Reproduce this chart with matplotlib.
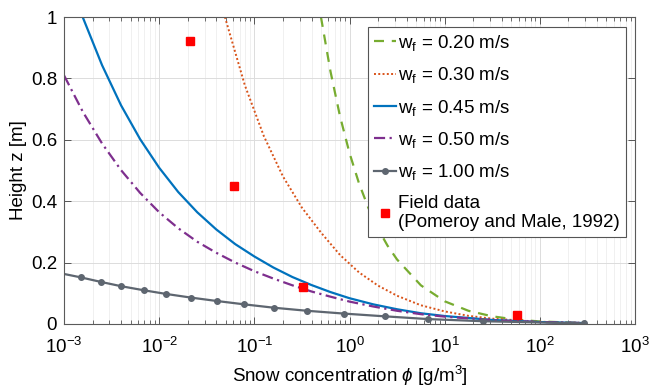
import numpy as np
import matplotlib
matplotlib.use("Agg")
import matplotlib.pyplot as plt
from matplotlib.ticker import LogLocator, FixedLocator, FuncFormatter, NullFormatter

plt.rcParams['font.family'] = ['Liberation Sans', 'DejaVu Sans']
plt.rcParams['mathtext.fontset'] = 'custom'
plt.rcParams['mathtext.rm'] = 'Liberation Sans'
plt.rcParams['mathtext.it'] = 'Liberation Sans:italic'
plt.rcParams['mathtext.bf'] = 'Liberation Sans:bold'

# ---- data (concentration given as log10 exponent) ----
labels = ['w$_\\mathregular{f}$ = 0.20 m/s', 'w$_\\mathregular{f}$ = 0.30 m/s',
          'w$_\\mathregular{f}$ = 0.45 m/s', 'w$_\\mathregular{f}$ = 0.50 m/s',
          'w$_\\mathregular{f}$ = 1.00 m/s']
field_label = 'Field data\n(Pomeroy and Male, 1992)'

w020_logphi = [-0.30, -0.2, -0.1, 0.0, 0.1, 0.2, 0.3, 0.4, 0.5, 0.75, 1.0, 1.25, 1.5, 1.75, 2.0, 2.46]
w020_z      = [1.0, 0.823, 0.677, 0.557, 0.458, 0.377, 0.310, 0.255, 0.210, 0.126, 0.074, 0.043, 0.025, 0.0144, 0.0083, 0.0031]

w030_logphi = [-1.309, -1.1, -0.9, -0.7, -0.5, -0.3, -0.1, 0.1, 0.3, 0.5, 0.75, 1.0, 1.25, 1.5, 2.0, 2.46]
w030_z      = [1.0, 0.778, 0.612, 0.481, 0.379, 0.298, 0.225, 0.168, 0.125, 0.092, 0.061, 0.041, 0.0266, 0.0174, 0.0074, 0.0036]

w045_logphi = [-2.804, -2.6, -2.4, -2.2, -2.0, -1.8, -1.6, -1.4, -1.2, -1.0, -0.8, -0.6, -0.4, -0.2, 0.0, 0.25, 0.5, 0.75, 1.0, 1.5, 2.0, 2.46]
w045_z      = [1.0, 0.843, 0.712, 0.602, 0.509, 0.430, 0.364, 0.308, 0.260, 0.220, 0.184, 0.153, 0.127, 0.104, 0.084, 0.064, 0.048, 0.035, 0.026, 0.0132, 0.0064, 0.0032]

w050_logphi = [-3.0, -2.8, -2.6, -2.4, -2.2, -2.0, -1.8, -1.6, -1.4, -1.2, -1.0, -0.8, -0.6, -0.4, -0.2, 0.0, 0.25, 0.5, 0.75, 1.0, 1.5, 2.0, 2.46]
w050_z      = [0.810, 0.690, 0.588, 0.501, 0.427, 0.364, 0.312, 0.268, 0.232, 0.200, 0.172, 0.148, 0.126, 0.106, 0.089, 0.073, 0.057, 0.043, 0.032, 0.024, 0.0125, 0.0062, 0.0031]

w100_logphi = [-3.0, -2.825, -2.611, -2.398, -2.163, -1.929, -1.666, -1.396, -1.106, -0.794, -0.444, -0.062, 0.369, 0.827, 1.404, 2.46]
w100_z      = [0.163, 0.152, 0.137, 0.123, 0.110, 0.098, 0.086, 0.075, 0.064, 0.053, 0.043, 0.034, 0.025, 0.016, 0.009, 0.002]

field_phi = [0.021, 0.0615, 0.327, 58.0]
field_z   = [0.923, 0.45, 0.12, 0.028]

xtick_vals = [1e-3, 1e-2, 1e-1, 1e0, 1e1, 1e2, 1e3]
ytick_vals = [0, 0.2, 0.4, 0.6, 0.8, 1.0]

# ---- figure ----
fig = plt.figure(figsize=(6.51, 3.92), dpi=100)
ax = fig.add_axes([64/651, 1-324/392, (635-64)/651, (324-17)/392])

FS = 13.5
green = '#77AC30'
orange = '#D95319'
blue = '#0072BD'
purple = '#7E2F8E'
grey = '#5E6670'

p = lambda a: np.power(10.0, np.asarray(a))
ax.plot(p(w020_logphi), w020_z, color=green, ls=(0, (4.5, 3.5)), lw=1.6, label=labels[0])
ax.plot(p(w030_logphi), w030_z, color=orange, ls=(0, (1, 1.2)), lw=1.4, label=labels[1])
ax.plot(p(w045_logphi), w045_z, color=blue, ls='-', lw=1.6, label=labels[2])
ax.plot(p(w050_logphi), w050_z, color=purple, ls=(0, (5, 2, 1, 2)), lw=1.6, label=labels[3])
ax.plot(p(w100_logphi), w100_z, color=grey, ls='-', lw=1.6, marker='o', ms=4,
        markevery=slice(1, None), label=labels[4])
ax.plot(field_phi, field_z, ls='none', marker='s', ms=5.5, color='#FF0000', label=field_label)

ax.set_xscale('log')
ax.set_xlim(1e-3, 1e3)
ax.set_ylim(0, 1)
ax.xaxis.set_major_locator(FixedLocator(xtick_vals))
ax.xaxis.set_minor_locator(LogLocator(base=10, subs=np.arange(2, 10), numticks=20))
ax.xaxis.set_minor_formatter(NullFormatter())
ax.yaxis.set_major_locator(FixedLocator(ytick_vals))
ax.yaxis.set_major_formatter(FuncFormatter(lambda v, pos: f'{v:g}'))

ax.grid(True, which='major', color='#dcdcdc', lw=0.7)
ax.grid(True, which='minor', axis='x', color='#eeeeee', lw=0.6)
ax.set_axisbelow(True)

ax.tick_params(which='both', direction='in', top=True, right=True, labelsize=FS,
               color='#555555')
ax.tick_params(which='major', length=5, width=0.7)
ax.tick_params(which='minor', length=3, width=0.6)
ax.tick_params(axis='x', which='major', pad=9)
ax.tick_params(axis='y', which='major', pad=5)
for s in ax.spines.values():
    s.set_color('#5a5a5a')
    s.set_linewidth(0.8)

ax.set_xlabel('Snow concentration $\\phi$ [g/m$^3$]', fontsize=FS, labelpad=5)
ax.set_ylabel('Height z [m]', fontsize=FS, labelpad=3)

leg = ax.legend(loc='upper right', bbox_to_anchor=(0.984, 0.967), fontsize=FS,
                handlelength=1.15, handletextpad=0.15, borderpad=0.3,
                labelspacing=0.66, borderaxespad=0, fancybox=False, framealpha=1,
                edgecolor='#555555')
leg.get_frame().set_linewidth(0.8)

fig.savefig('out.png', dpi=100)
